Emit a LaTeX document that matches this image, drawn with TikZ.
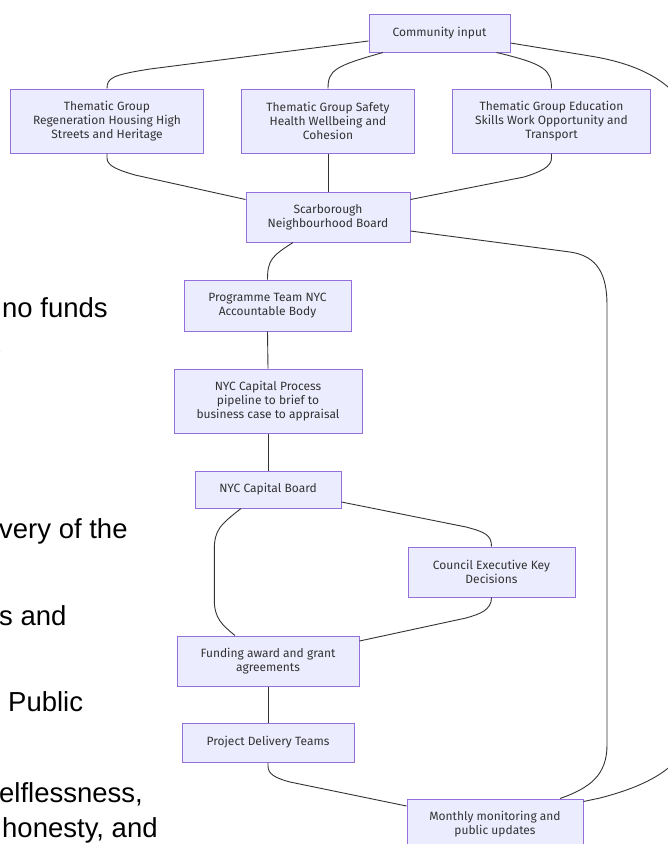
\documentclass[tikz,border=0pt]{standalone}
\usepackage{fontspec}
\setmainfont{Liberation Sans}
\newfontfamily\boxfont{Fira Sans}
\usetikzlibrary{calc}
\definecolor{boxfill}{HTML}{ECECFF}
\definecolor{boxborder}{HTML}{9370DB}
\definecolor{edgecol}{HTML}{333333}
\definecolor{textcol}{HTML}{333333}
\begin{document}
\begin{tikzpicture}[x=1pt,y=-1pt,
  box/.style={draw=boxborder, fill=boxfill, line width=1pt, text=textcol,
    font=\boxfont\fontsize{12}{14}\selectfont, align=center, inner sep=0pt},
  edge/.style={draw=edgecol, line width=0.9pt},
  doc/.style={anchor=base west, inner sep=0pt, font=\fontsize{27.5}{30}\selectfont, text=black}]
\useasboundingbox (0,0) rectangle (668,844);
\clip (0,0) rectangle (668,844);
\fill[white] (0,0) rectangle (668,844);

% document text (cut off on the left)
\node[doc] (t1) at (2,317) {no funds};
\node[doc, font=\fontsize{14}{16}\selectfont, text=gray] (t2) at (-7,355) {e};
\node[doc] (t3) at (-1,538) {very of the};
\node[doc] (t4) at (-1,625) {s and};
\node[doc] (t5) at (8,711) {Public};
\node[doc] (t6) at (-1,802) {elflessness,};
\node[doc] (t7) at (2,837) {honesty, and};

% nodes
\node[box, minimum width=141pt, minimum height=38pt] (comm) at (439.5,33) {Community input};
\node[box, minimum width=193pt, minimum height=64pt] (tg1) at (107,121) {Thematic Group\\Regeneration Housing High\\Streets and Heritage};
\node[box, minimum width=173pt, minimum height=64pt] (tg2) at (328,121) {Thematic Group Safety\\Health Wellbeing and\\Cohesion};
\node[box, minimum width=198pt, minimum height=64pt] (tg3) at (551.5,121) {Thematic Group Education\\Skills Work Opportunity and\\Transport};
\node[box, minimum width=164pt, minimum height=50pt] (scar) at (328,217) {Scarborough\\Neighbourhood Board};
\node[box, minimum width=167pt, minimum height=51pt] (prog) at (267.5,305.5) {Programme Team NYC\\Accountable Body};
\node[box, minimum width=188pt, minimum height=64pt] (proc) at (268,401) {NYC Capital Process\\pipeline to brief to\\business case to appraisal};
\node[box, minimum width=146pt, minimum height=37pt] (board) at (268,489.5) {NYC Capital Board};
\node[box, minimum width=167pt, minimum height=50pt] (council) at (491.5,572) {Council Executive Key\\Decisions};
\node[box, minimum width=182pt, minimum height=50pt] (fund) at (268,661) {Funding award and grant\\agreements};
\node[box, minimum width=172pt, minimum height=39pt] (proj) at (268,742.5) {Project Delivery Teams};
\node[box, minimum width=176pt, minimum height=50pt] (month) at (495,824) {Monthly monitoring and\\public updates};

% connectors
\draw[edge] ($(comm.west)+(0,8)$) -- (150,69) .. controls (112,75) and (107,78) .. (tg1.north);
\draw[edge] ($(comm.south west)+(14.5,0)$) .. controls (335,66) and (328,70) .. (tg2.north);
\draw[edge] ($(comm.south east)+(-14,0)$) .. controls (545,64) and (551.5,70) .. (tg3.north);
\draw[edge] ($(comm.east)+(0,10)$) -- (590,56) .. controls (640,64) and (690,85) .. (695,140)
   -- (695,720) .. controls (690,765) and (650,785) .. (600,798) -- ($(month.north east)+(0,3)$);

\draw[edge] (tg1.south) -- (107,158) .. controls (107,166) and (118,170) .. (135,175) -- ($(scar.north west)+(0,8)$);
\draw[edge] (tg2.south) -- (scar.north);
\draw[edge] (tg3.south) -- (551.5,158) .. controls (551.5,167) and (540,172) .. (524,177) -- ($(scar.north east)+(0,8)$);

\draw[edge] ($(scar.south)+(-35,0)$) .. controls (272,256) and (267.5,260) .. (prog.north);
\draw[edge] ($(scar.east)+(0,14)$) -- (570,252) .. controls (598,256) and (607,275) .. (607,305)
   -- (607,745) .. controls (607,775) and (590,788) .. ($(month.north)+(65,0)$);

\draw[edge] (prog.south) -- (proc.north);
\draw[edge] (proc.south) -- (board.north);

\draw[edge] ($(board.south)+(-27,0)$) .. controls (220,525) and (214.3,530) .. (214.3,550)
   -- (214.3,600) .. controls (214.3,618) and (222,625) .. ($(fund.north)+(-33,0)$);
\draw[edge] ($(board.east)+(0,12.5)$) -- (466,527) .. controls (485,532) and (491.5,535) .. (council.north);
\draw[edge] (council.south) .. controls (491.5,610) and (480,614) .. (466,618) -- ($(fund.north east)+(0,5.5)$);

\draw[edge] (fund.south) -- (proj.north);
\draw[edge] (proj.south) -- (268,766) .. controls (268,774) and (275,778) .. (290,782) -- ($(month.north west)+(0,7.5)$);
\end{tikzpicture}
\end{document}
